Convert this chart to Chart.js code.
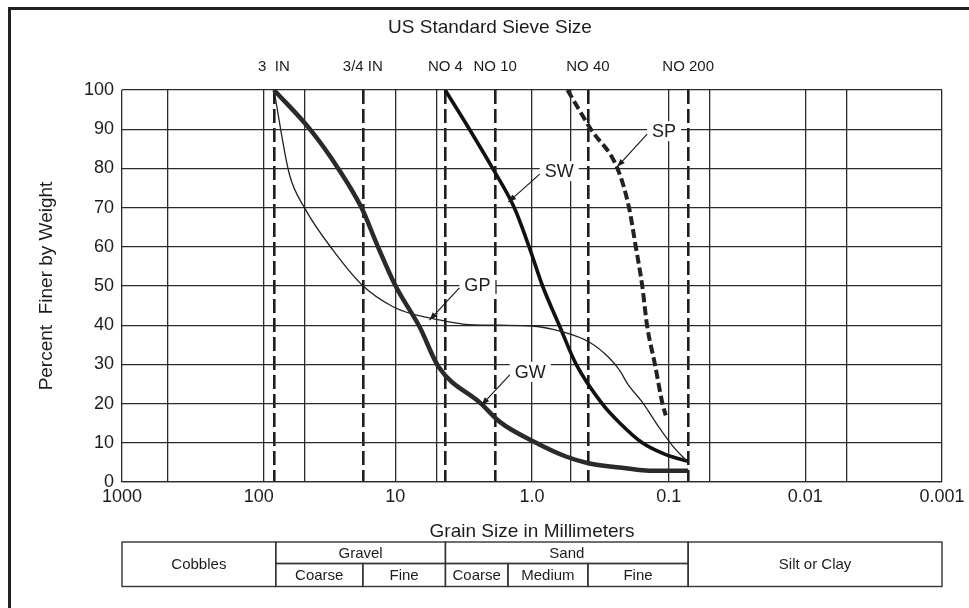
<!DOCTYPE html>
<html>
<head>
<meta charset="utf-8">
<title>Grain size distribution</title>
<script src="https://cdn.jsdelivr.net/npm/chart.js@4.4.1/dist/chart.umd.min.js"></script>
<style>
  html, body { margin: 0; padding: 0; background: #fff; }
  canvas { display: block; }
</style>
</head>
<body>
<canvas id="gradation" width="969" height="608"></canvas>
<script>
// Gradation curves: grain size (mm) against percent finer by weight
var gwSize = [77.3, 42.2, 26.2, 17.7, 13.4, 9.95, 6.65, 4.83, 2.36, 1.73, 0.935, 0.565, 0.388, 0.206, 0.139, 0.072];
var gwPct  = [100, 90, 80, 70, 60, 50, 39.6, 29.4, 20, 15.4, 10, 6.5, 4.8, 3.5, 2.9, 2.9];

var gpSize = [77.3, 59.8, 45.9, 28.5, 17.2, 10.4, 7.45, 5.32, 3.21, 1.73, 0.99, 0.598, 0.382, 0.273, 0.231, 0.195, 0.156, 0.118, 0.094, 0.072];
var gpPct  = [100, 78.7, 69.8, 59.1, 50, 44.7, 42.8, 41.7, 40.3, 40, 39.8, 38.3, 35.7, 31.7, 28.7, 24.5, 20.4, 14, 9.3, 5];

var swSize = [4.32, 2.87, 1.94, 1.35, 1.05, 0.837, 0.632, 0.475, 0.307, 0.227, 0.156, 0.105, 0.072];
var swPct  = [100, 90, 80, 70, 60, 50, 40, 30, 20, 15, 10, 7, 5.3];

var spSize = [0.55, 0.371, 0.237, 0.195, 0.174, 0.156, 0.144, 0.126, 0.111, 0.105];
var spPct  = [100, 90, 80, 70, 60, 50, 40, 30, 20, 17];

// axes
var gridSizes = [1000, 460, 92, 46, 10, 5, 1, 0.52, 0.1, 0.05, 0.01, 0.005, 0.001];
var decadeSizes = [1000, 100, 10, 1, 0.1, 0.01, 0.001];
var decadeLabels = ['1000', '100', '10', '1.0', '0.1', '0.01', '0.001'];
var sieveSizes = [77.3, 17.3, 4.3, 1.86, 0.39, 0.072];
var sieveLabels = ['3  IN', '3/4 IN', 'NO 4', 'NO 10', 'NO 40', 'NO 200'];

// curve call-outs: text, text position, arrow tip (mm, %)
var noteText = ['GP', 'GW', 'SW', 'SP'];
var noteAt = [[2.51, 50.3], [1.03, 28.1], [0.632, 79.3], [0.108, 89.5]];
var noteTip = [[5.62, 41.3], [2.34, 19.6], [1.49, 71.4], [0.238, 80.4]];

// soil classification strip (name, from mm, to mm)
var classes = [['Cobbles', 1000, 75], ['Gravel', 75, 4.3], ['Sand', 4.3, 0.072], ['Silt or Clay', 0.072, 0.001]];
var subclasses = [['Coarse', 75, 17.3], ['Fine', 17.3, 4.3], ['Coarse', 4.3, 1.5], ['Medium', 1.5, 0.39], ['Fine', 0.39, 0.072]];

var topTitle = 'US Standard Sieve Size';

var FONT = '"Liberation Sans", Arial, Helvetica, sans-serif';
var INK = '#1c1c1c';
Chart.defaults.font.family = FONT;
Chart.defaults.color = INK;

function findSize(list, v) {
  for (var i = 0; i < list.length; i++) {
    if (Math.abs(Math.log10(list[i]) - Math.log10(v)) < 1e-6) return i;
  }
  return -1;
}

function points(sizes, pct) {
  var out = [];
  for (var i = 0; i < sizes.length; i++) out.push({ x: sizes[i], y: pct[i] });
  return out;
}

var framePlugin = {
  id: 'frame',
  beforeDraw: function (chart) {
    var ctx = chart.ctx;
    ctx.save();
    ctx.fillStyle = '#fff';
    ctx.fillRect(0, 0, chart.width, chart.height);
    ctx.strokeStyle = '#222';
    ctx.lineWidth = 3;
    ctx.strokeRect(9.5, 8.5, chart.width + 40, chart.height + 40);
    ctx.font = '19px ' + FONT;
    ctx.fillStyle = INK;
    ctx.textAlign = 'center';
    ctx.textBaseline = 'middle';
    ctx.fillText(topTitle, 490, 28);
    ctx.restore();
  }
};

var notePlugin = {
  id: 'curveNotes',
  afterDatasetsDraw: function (chart) {
    var ctx = chart.ctx, xs = chart.scales.x, ys = chart.scales.y;
    ctx.save();
    ctx.font = '18px ' + FONT;
    ctx.textAlign = 'center';
    ctx.textBaseline = 'middle';
    for (var i = 0; i < noteText.length; i++) {
      var tx = xs.getPixelForValue(noteAt[i][0]);
      var ty = ys.getPixelForValue(noteAt[i][1]);
      var w = ctx.measureText(noteText[i]).width + 10;
      ctx.fillStyle = '#fff';
      ctx.fillRect(tx - w / 2, ty - 10, w, 20);
      ctx.fillStyle = INK;
      ctx.fillText(noteText[i], tx, ty + 1);

      var sx = tx - w / 2, sy = ty + 3;
      var ex = xs.getPixelForValue(noteTip[i][0]);
      var ey = ys.getPixelForValue(noteTip[i][1]);
      ctx.strokeStyle = INK;
      ctx.lineWidth = 1.2;
      ctx.beginPath();
      ctx.moveTo(sx, sy);
      ctx.lineTo(ex, ey);
      ctx.stroke();
      var a = Math.atan2(ey - sy, ex - sx);
      ctx.beginPath();
      ctx.moveTo(ex, ey);
      ctx.lineTo(ex - 8 * Math.cos(a) + 3 * Math.sin(a), ey - 8 * Math.sin(a) - 3 * Math.cos(a));
      ctx.lineTo(ex - 8 * Math.cos(a) - 3 * Math.sin(a), ey - 8 * Math.sin(a) + 3 * Math.cos(a));
      ctx.closePath();
      ctx.fill();
    }
    ctx.restore();
  }
};

var tablePlugin = {
  id: 'soilTable',
  afterDraw: function (chart) {
    var ctx = chart.ctx, xs = chart.scales.x;
    var top = chart.chartArea.bottom + 60, mid = top + 21.5, bot = top + 44.5;
    ctx.save();
    ctx.strokeStyle = '#333';
    ctx.lineWidth = 1.4;
    ctx.fillStyle = INK;
    ctx.font = '15px ' + FONT;
    ctx.textAlign = 'center';
    ctx.textBaseline = 'middle';
    for (var i = 0; i < classes.length; i++) {
      var x0 = xs.getPixelForValue(classes[i][1]);
      var x1 = xs.getPixelForValue(classes[i][2]);
      var split = classes[i][0] === 'Gravel' || classes[i][0] === 'Sand';
      var y1 = split ? mid : bot;
      ctx.strokeRect(x0, top, x1 - x0, y1 - top);
      ctx.fillText(classes[i][0], (x0 + x1) / 2, (top + y1) / 2 + 1);
    }
    for (var j = 0; j < subclasses.length; j++) {
      var s0 = xs.getPixelForValue(subclasses[j][1]);
      var s1 = xs.getPixelForValue(subclasses[j][2]);
      ctx.strokeRect(s0, mid, s1 - s0, bot - mid);
      ctx.fillText(subclasses[j][0], (s0 + s1) / 2, (mid + bot) / 2 + 1);
    }
    ctx.restore();
  }
};

new Chart(document.getElementById('gradation').getContext('2d'), {
  type: 'line',
  data: {
    datasets: [
      {
        label: 'GW',
        data: points(gwSize, gwPct),
        borderColor: '#2a2a2a',
        borderWidth: 4.5,
        pointRadius: 0,
        cubicInterpolationMode: 'monotone'
      },
      {
        label: 'GP',
        data: points(gpSize, gpPct),
        borderColor: '#222',
        borderWidth: 1.3,
        pointRadius: 0,
        cubicInterpolationMode: 'monotone'
      },
      {
        label: 'SW',
        data: points(swSize, swPct),
        borderColor: '#111',
        borderWidth: 3.6,
        pointRadius: 0,
        cubicInterpolationMode: 'monotone'
      },
      {
        label: 'SP',
        data: points(spSize, spPct),
        borderColor: '#222',
        borderWidth: 4,
        borderDash: [9, 4],
        pointRadius: 0,
        cubicInterpolationMode: 'monotone'
      }
    ]
  },
  options: {
    responsive: false,
    animation: false,
    layout: { padding: { left: 0, right: 27, top: 0, bottom: 0 } },
    plugins: {
      legend: { display: false },
      tooltip: { enabled: false }
    },
    scales: {
      x: {
        type: 'logarithmic',
        position: 'bottom',
        reverse: true,
        min: 0.001,
        max: 1000,
        afterBuildTicks: function (scale) {
          var vals = gridSizes.concat([100]).sort(function (a, b) { return a - b; });
          scale.ticks = vals.map(function (v) { return { value: v }; });
        },
        afterFit: function (scale) { scale.height = 126; },
        ticks: {
          autoSkip: false,
          maxRotation: 0,
          minRotation: 0,
          padding: 4,
          font: { size: 18 },
          callback: function (value) {
            var k = findSize(decadeSizes, value);
            return k >= 0 ? decadeLabels[k] : '';
          }
        },
        grid: {
          drawTicks: false,
          lineWidth: 1.3,
          color: function (ctx) {
            return ctx.tick && findSize(gridSizes, ctx.tick.value) >= 0 ? '#2b2b2b' : 'rgba(0,0,0,0)';
          }
        },
        border: { display: true, color: '#2b2b2b', width: 1.3 },
        title: {
          display: true,
          text: 'Grain Size in Millimeters',
          font: { size: 19 },
          padding: { top: 0, bottom: 65 }
        }
      },
      sieve: {
        type: 'logarithmic',
        position: 'top',
        reverse: true,
        min: 0.001,
        max: 1000,
        afterBuildTicks: function (scale) {
          scale.ticks = sieveSizes.slice().sort(function (a, b) { return a - b; })
            .map(function (v) { return { value: v }; });
        },
        afterFit: function (scale) { scale.height = 90; },
        ticks: {
          autoSkip: false,
          maxRotation: 0,
          minRotation: 0,
          padding: 14,
          font: { size: 15 },
          callback: function (value) {
            var k = findSize(sieveSizes, value);
            return k >= 0 ? sieveLabels[k] : '';
          }
        },
        grid: { drawTicks: false, lineWidth: 2.6, color: '#1e1e1e' },
        border: { display: false, dash: [14, 5] }
      },
      y: {
        min: 0,
        max: 100,
        afterFit: function (scale) { scale.width = 122; },
        ticks: { stepSize: 10, padding: 8, font: { size: 18 } },
        grid: { drawTicks: false, lineWidth: 1.3, color: '#2b2b2b' },
        border: { display: false },
        title: {
          display: true,
          text: 'Percent  Finer by Weight',
          font: { size: 19 },
          padding: { top: 35, bottom: 0 }
        }
      }
    }
  },
  plugins: [framePlugin, notePlugin, tablePlugin]
});
</script>
</body>
</html>
